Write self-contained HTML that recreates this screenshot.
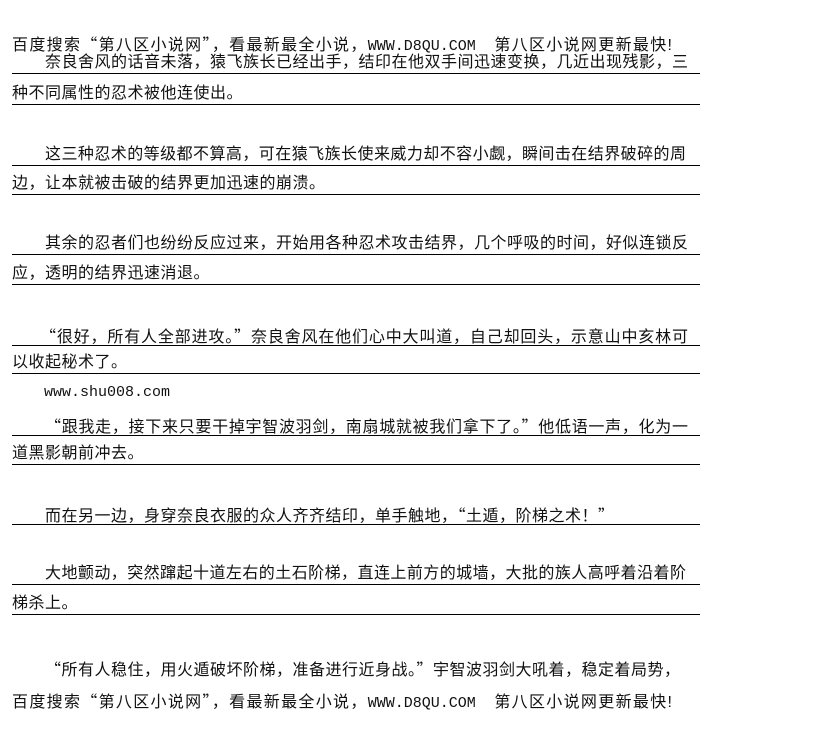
<!DOCTYPE html>
<html><head><meta charset="utf-8"><style>
body{margin:0;width:813px;height:741px;background:#fff;position:relative;overflow:hidden;font-family:"Liberation Sans","Noto Sans CJK SC","WenQuanYi Zen Hei",sans-serif;color:#111}
.t{position:absolute;font-size:16px;line-height:20px;height:20px;white-space:nowrap;letter-spacing:0.5px}
.j{text-align:justify;text-align-last:justify;white-space:normal;overflow:hidden;letter-spacing:0}
.u{position:absolute;left:12px;width:688px;height:1px;background:#000}
.m{font-family:"Liberation Mono",monospace;font-size:15px}
.q{font-family:"Noto Sans CJK SC","WenQuanYi Zen Hei",sans-serif}
</style></head><body>
<div class="t j" style="left:12px;width:660px;top:33px">百度搜索<span class="q">“</span>第八区小说网<span class="q">”</span>，看最新最全小说，<span class="m">WWW.D8QU.COM</span>　第八区小说网更新最快!</div>

<div class="t j" style="left:45px;width:643px;top:53px">奈良舍风的话音未落，猿飞族长已经出手，结印在他双手间迅速变换，几近出现残影，三</div><div class="u" style="top:73px"></div>
<div class="t" style="left:12px;top:84px">种不同属性的忍术被他连使出。</div><div class="u" style="top:104px"></div>

<div class="t j" style="left:45px;width:641px;top:145px">这三种忍术的等级都不算高，可在猿飞族长使来威力却不容小觑，瞬间击在结界破碎的周</div><div class="u" style="top:165px"></div>
<div class="t" style="left:12px;top:174px">边，让本就被击破的结界更加迅速的崩溃。</div><div class="u" style="top:194px"></div>

<div class="t j" style="left:45px;width:643px;top:234px">其余的忍者们也纷纷反应过来，开始用各种忍术攻击结界，几个呼吸的时间，好似连锁反</div><div class="u" style="top:254px"></div>
<div class="t" style="left:12px;top:264px">应，透明的结界迅速消退。</div><div class="u" style="top:284px"></div>

<div class="t j" style="left:40px;width:648px;top:325px"><span class="q">“</span>很好，所有人全部进攻。<span class="q">”</span>奈良舍风在他们心中大叫道，自己却回头，示意山中亥林可</div><div class="u" style="top:345px"></div>
<div class="t" style="left:12px;top:353px">以收起秘术了。</div><div class="u" style="top:373px"></div>
<div class="t m" style="left:44px;top:383px;letter-spacing:0">www.shu008.com</div>

<div class="t j" style="left:45px;width:643px;top:415px"><span class="q">“</span>跟我走，接下来只要干掉宇智波羽剑，南扇城就被我们拿下了。<span class="q">”</span>他低语一声，化为一</div><div class="u" style="top:435px"></div>
<div class="t" style="left:12px;top:444px">道黑影朝前冲去。</div><div class="u" style="top:464px"></div>

<div class="t" style="left:45px;top:504px">而在另一边，身穿奈良衣服的众人齐齐结印，单手触地，<span class="q">“</span>土遁，阶梯之术！<span class="q">”</span></div><div class="u" style="top:524px"></div>

<div class="t j" style="left:45px;width:641px;top:564px">大地颤动，突然蹿起十道左右的土石阶梯，直连上前方的城墙，大批的族人高呼着沿着阶</div><div class="u" style="top:584px"></div>
<div class="t" style="left:12px;top:594px">梯杀上。</div><div class="u" style="top:614px"></div>

<div class="t j" style="left:45px;width:635px;top:658px"><span class="q">“</span>所有人稳住，用火遁破坏阶梯，准备进行近身战。<span class="q">”</span>宇智波羽剑大吼着，稳定着局势，</div>
<div class="t j" style="left:12px;width:660px;top:690px">百度搜索<span class="q">“</span>第八区小说网<span class="q">”</span>，看最新最全小说，<span class="m">WWW.D8QU.COM</span>　第八区小说网更新最快!</div>
</body></html>
